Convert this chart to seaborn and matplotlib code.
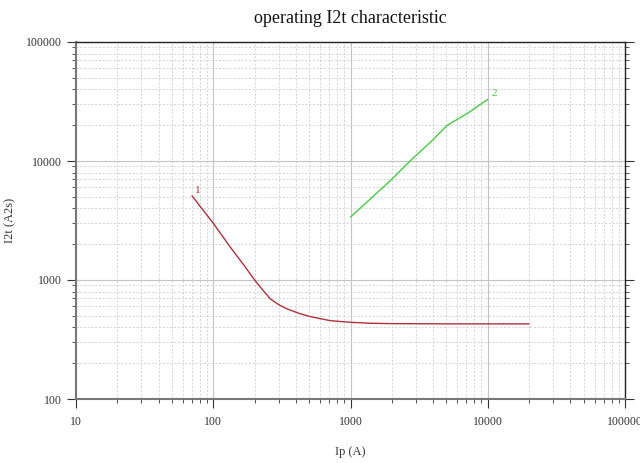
import numpy as np
import pandas as pd
import matplotlib
matplotlib.use('Agg')
import matplotlib.pyplot as plt
import seaborn as sns
from matplotlib.ticker import LogLocator, NullFormatter, FixedLocator, FixedFormatter

# 曲线数据
curve1_ip = [70, 100, 133, 170, 200, 230, 261, 300, 345, 420, 511, 714, 1000, 1400, 2000, 5000, 10000, 20000]
curve1_i2t = [5100, 3000, 1890, 1300, 1000, 820, 693, 620, 572, 525, 492, 455, 441, 433, 430, 428, 428, 428]
curve2_ip = [1000, 1960, 2740, 3840, 5080, 7110, 10000]
curve2_i2t = [3380, 6870, 10100, 14450, 20000, 25100, 33000]

x_ticks = [10, 100, 1000, 10000, 100000]
x_labels = ['10', '100', '1000', '10000', '100000']
y_ticks = [100, 1000, 10000, 100000]
y_labels = ['100', '1000', '10000', '100000']

red = '#b0303c'
green = '#44cc44'

sns.set_style('ticks')
plt.rcParams['font.family'] = ['Liberation Serif', 'DejaVu Serif']

fig = plt.figure(figsize=(6.4, 4.63), dpi=100)
ax = fig.add_axes([76 / 640, 1 - 399 / 463, 549 / 640, 357 / 463])

df1 = pd.DataFrame({'Ip': curve1_ip, 'I2t': curve1_i2t})
df2 = pd.DataFrame({'Ip': curve2_ip, 'I2t': curve2_i2t})
sns.lineplot(data=df1, x='Ip', y='I2t', ax=ax, color=red, lw=1.0, sort=False)
sns.lineplot(data=df2, x='Ip', y='I2t', ax=ax, color=green, lw=1.0, sort=False)

ax.set_xscale('log')
ax.set_yscale('log')
ax.set_xlim(10, 100000)
ax.set_ylim(100, 100000)

ax.xaxis.set_major_locator(FixedLocator(x_ticks))
ax.xaxis.set_major_formatter(FixedFormatter(x_labels))
ax.yaxis.set_major_locator(FixedLocator(y_ticks))
ax.yaxis.set_major_formatter(FixedFormatter(y_labels))
ax.xaxis.set_minor_locator(LogLocator(base=10, subs=np.arange(2, 10), numticks=20))
ax.yaxis.set_minor_locator(LogLocator(base=10, subs=np.arange(2, 10), numticks=20))
ax.xaxis.set_minor_formatter(NullFormatter())
ax.yaxis.set_minor_formatter(NullFormatter())

ax.grid(which='major', color='#c4c4c4', lw=0.8, ls='-')
ax.grid(which='minor', color='#cfcfcf', lw=0.6, ls=(0, (2.5, 2)))

ax.tick_params(which='both', direction='out', right=True, top=False,
               colors='#333333', labelcolor='#333333', labelsize=8.5)
ax.tick_params(axis='x', which='major', length=6.5, pad=5.5)
ax.tick_params(axis='y', which='major', length=6.5, pad=3.5)
ax.tick_params(which='minor', length=3)

for s in ['left', 'bottom']:
    ax.spines[s].set_color('#777777')
    ax.spines[s].set_linewidth(1.5)
for s in ['top', 'right']:
    ax.spines[s].set_color('#222222')
    ax.spines[s].set_linewidth(1.0)

ax.annotate('1', xy=(curve1_ip[0], curve1_i2t[0]), xytext=(4, 4), textcoords='offset points',
            color=red, fontsize=8, ha='center', va='center')
ax.annotate('2', xy=(curve2_ip[-1], curve2_i2t[-1]), xytext=(4.5, 4), textcoords='offset points',
            color=green, fontsize=8, ha='center', va='center')

ax.set_xlabel('Ip (A)', fontsize=9, color='#333333', labelpad=13)
ax.set_ylabel('I2t (A2s)', fontsize=9, color='#333333', labelpad=7)
ax.set_title('operating I2t characteristic', fontsize=13, color='#111111', pad=14)

fig.savefig('out.png', dpi=100)
plt.close(fig)
